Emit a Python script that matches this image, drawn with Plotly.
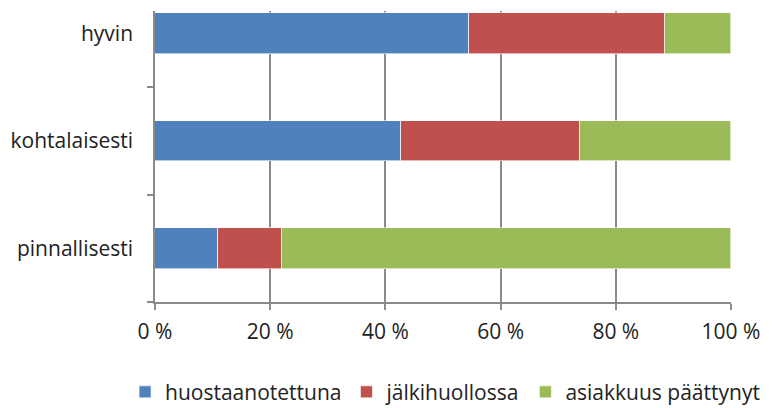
import plotly.graph_objects as go

categories = ["pinnallisesti", "kohtalaisesti", "hyvin"]
series_names = ["huostaanotettuna", "jälkihuollossa", "asiakkuus päättynyt"]
huostaanotettuna = [10.9, 42.7, 54.5]
jalkihuollossa = [11.1, 31.1, 34.1]
asiakkuus_paattynyt = [78.0, 26.2, 11.4]
tick_vals = [0, 20, 40, 60, 80, 100]
tick_text = ["0 %", "20 %", "40 %", "60 %", "80 %", "100 %"]
colors = ["#4F81BD", "#C0504D", "#9BBB59"]

fig = go.Figure()
for name, vals, col in zip(series_names, [huostaanotettuna, jalkihuollossa, asiakkuus_paattynyt], colors):
    fig.add_trace(go.Bar(
        y=categories, x=vals, name=name, orientation="h",
        marker=dict(color=col, line=dict(color="rgba(255,255,255,0.6)", width=1)),
        width=0.38,
    ))

font_family = "Open Sans, Noto Sans, sans-serif"
fig.update_layout(
    barmode="stack",
    width=784, height=408,
    margin=dict(l=147, r=61, t=3, b=107),
    paper_bgcolor="white", plot_bgcolor="white",
    font=dict(family=font_family, size=21, color="#222222"),
    showlegend=True,
    legend=dict(orientation="h", x=-0.052, xanchor="left", y=-0.31, yanchor="middle",
                font=dict(size=21, family=font_family, color="#222222"),
                itemwidth=30, traceorder="normal"),
    bargap=0,
)
fig.update_xaxes(
    range=[0, 100], tickvals=tick_vals, ticktext=tick_text,
    showgrid=True, gridcolor="#8a8a8a", gridwidth=1.5,
    showline=True, linecolor="#8a8a8a", linewidth=1.5,
    ticks="outside", ticklen=6, tickcolor="#8a8a8a", tickwidth=1.5,
    zeroline=False, fixedrange=True, ticklabelstandoff=4,
)
fig.update_yaxes(
    range=[-0.5, 2.21], categoryorder="array", categoryarray=categories,
    showgrid=False, showline=True, linecolor="#8a8a8a", linewidth=1.5,
    ticks="outside", ticklen=6, tickcolor="#8a8a8a", tickwidth=1.5,
    tickson="boundaries", ticklabelstandoff=16, fixedrange=True,
)
fig.write_html("out.html")
